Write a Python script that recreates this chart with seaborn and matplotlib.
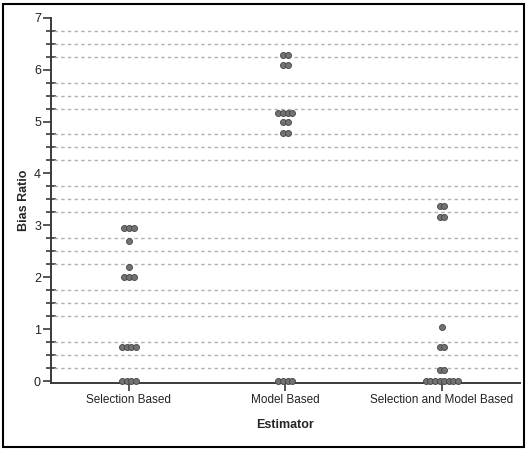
import numpy as np
import pandas as pd
import matplotlib
matplotlib.use("Agg")
import matplotlib.pyplot as plt
from matplotlib.patches import Rectangle
from matplotlib.ticker import MultipleLocator
import seaborn as sns

# values (bias ratio per estimator)
categories = ["Selection Based", "Model Based", "Selection and Model Based"]
selection_based = [0, 0, 0, 0, 0.66, 0.66, 0.66, 0.66, 2.01, 2.01, 2.01,
                   2.20, 2.70, 2.96, 2.96, 2.96]
model_based = [0, 0, 0, 0, 4.77, 4.77, 4.99, 4.99, 5.16, 5.16, 5.16, 5.16,
               6.08, 6.08, 6.28, 6.28]
selection_and_model = [0, 0, 0, 0, 0, 0, 0, 0, 0.21, 0.21, 0.66, 0.66, 1.05,
                       3.17, 3.17, 3.37, 3.37]

df = pd.concat([
    pd.DataFrame({"Estimator": categories[0], "Bias Ratio": selection_based}),
    pd.DataFrame({"Estimator": categories[1], "Bias Ratio": model_based}),
    pd.DataFrame({"Estimator": categories[2], "Bias Ratio": selection_and_model}),
], ignore_index=True)

# stack tied values side by side, centred on the category (dot plot style)
step = 0.0295
df["pos"] = df["Estimator"].map({c: i for i, c in enumerate(categories)})
grp = df.groupby(["Estimator", "Bias Ratio"])
df["rank"] = grp.cumcount()
df["n"] = grp["Bias Ratio"].transform("size")
df["x"] = df["pos"] + (df["rank"] - (df["n"] - 1) / 2) * step

sns.set_style("white")
plt.rcParams["font.family"] = ["Liberation Sans", "DejaVu Sans"]

fig = plt.figure(figsize=(5.28, 4.5), dpi=100)
ax = fig.add_axes([0.096, 0.149, 0.889, 0.812])

sns.scatterplot(data=df, x="x", y="Bias Ratio", ax=ax, s=19, color="#727272",
                edgecolor="#444444", linewidth=0.6, clip_on=False, zorder=3)

ax.set_xlim(-0.5, 2.5)
ax.set_ylim(-0.03, 7)
ax.set_xticks(range(len(categories)))
ax.set_xticklabels(categories)
ax.yaxis.set_major_locator(MultipleLocator(1))
ax.yaxis.set_minor_locator(MultipleLocator(0.25))

# dashed reference lines at the minor ticks only
for yv in np.arange(0.25, 7, 0.25):
    if abs(yv - round(yv)) > 1e-6:
        ax.axhline(yv, xmin=0.008, xmax=0.996, color="#b0b0b0", lw=1.0,
                   ls=(0, (2.5, 2.3)), zorder=1)

for side in ["top", "right"]:
    ax.spines[side].set_visible(False)
for side in ["left", "bottom"]:
    ax.spines[side].set_color("#3a3a3a")
    ax.spines[side].set_linewidth(1.4)

ax.tick_params(axis="both", which="both", left=True, bottom=True)
ax.tick_params(axis="y", which="major", direction="out", length=6, width=1.2,
               color="#3a3a3a", labelsize=9, labelcolor="#222222", pad=1)
ax.tick_params(axis="y", which="minor", direction="inout", length=7, width=1.2,
               color="#3a3a3a")
ax.tick_params(axis="x", direction="out", length=6, width=1.2, color="#3a3a3a",
               labelsize=8.5, labelcolor="#222222", pad=2)

ax.set_xlabel("Estimator", fontsize=9, fontweight="bold", labelpad=9)
ax.set_ylabel("Bias Ratio", fontsize=9, fontweight="bold", labelpad=3)

fig.patches.append(Rectangle((0.006, 0.006), 0.987, 0.985, transform=fig.transFigure,
                             fill=False, edgecolor="black", lw=1.5))

fig.savefig("out.png", dpi=100)
